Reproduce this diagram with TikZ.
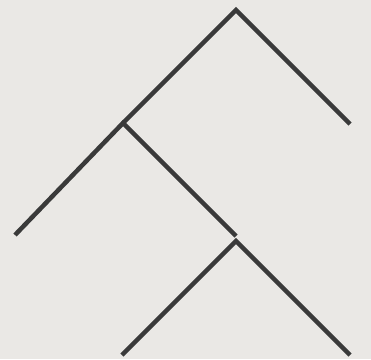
\documentclass[tikz,border=0pt]{standalone}
\definecolor{bg}{HTML}{EAE8E5}
\definecolor{ln}{HTML}{3A3A3A}
\begin{document}
\begin{tikzpicture}[x=1pt,y=-1pt,edge/.style={draw=ln,line width=4.5pt,line cap=butt}]
\fill[bg] (0,0) rectangle (371,359);
\useasboundingbox (0,0) rectangle (371,359);
\coordinate (r) at (236,10);
\coordinate (a) at (123,123);
\coordinate (b) at (350,124);
\coordinate (c) at (15,235);
\coordinate (d) at (236,236);
\coordinate (e) at (236,241);
\coordinate (f) at (122,355);
\coordinate (g) at (350,355);
\draw[edge] (a) -- (r) -- (b);
\draw[edge] (c) -- (a) -- (d);
\draw[edge] (f) -- (e) -- (g);
\end{tikzpicture}
\end{document}
